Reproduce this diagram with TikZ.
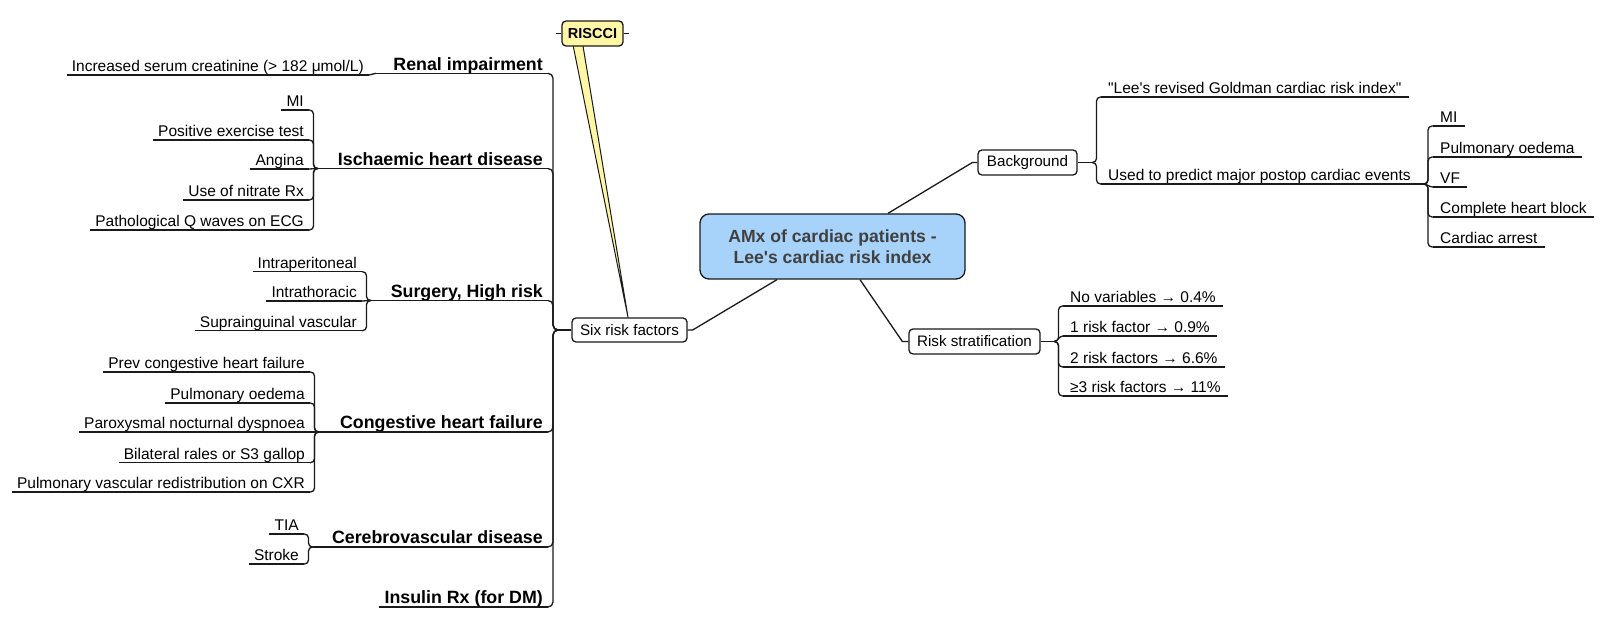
\documentclass[tikz,border=0pt]{standalone}
\usepackage{fontspec}
\setmainfont{Liberation Sans}
\newfontfamily\arial{Liberation Sans}
\definecolor{centerfill}{HTML}{A7D3FA}
\definecolor{calloutfill}{HTML}{FFF7A6}
\definecolor{linec}{HTML}{1A1A1A}
\definecolor{ctext}{HTML}{404040}
\begin{document}
\begin{tikzpicture}[x=1pt,y=-1pt,
  conn/.style={draw=linec,line width=1.3pt},
  leafL/.style={anchor=south east,inner xsep=5pt,inner ysep=0pt,text height=11pt,text depth=3.5pt,font=\arial\fontsize{15.5}{18}\selectfont},
  leafR/.style={leafL,anchor=south west,inner xsep=7pt},
  topic/.style={anchor=south east,inner xsep=5pt,inner ysep=0pt,text height=13pt,text depth=3pt,font=\arial\fontsize{17.8}{21}\selectfont\bfseries},
  boxnode/.style={draw=linec,line width=1.3pt,rounded corners=4pt,fill=white,inner sep=0pt,minimum height=25pt,font=\arial\fontsize{15.2}{18}\selectfont},
  brk/.style={conn,rounded corners=4pt},
]
\fill[white] (0,0) rectangle (1600,629);
\useasboundingbox (0,0) rectangle (1600,629);

% ---------- central and first-level nodes ----------
\node[draw=linec,line width=1.3pt,fill=centerfill,rounded corners=9pt,minimum width=265pt,minimum height=65pt,
      align=center,text=ctext,font=\arial\fontsize{17.6}{21}\selectfont\bfseries] (c) at (832.5,246.5)
      {AMx of cardiac patients -\\Lee's cardiac risk index};
\node[boxnode,minimum width=115pt,minimum height=24pt] (six) at (629.5,330) {Six risk factors};
\node[boxnode,minimum width=99pt] (bg) at (1027.5,162.5) {Background};
\node[boxnode,minimum width=131pt] (risk) at (974.5,341.5) {Risk stratification};

\draw[conn] ([xshift=55.5pt]c.north) -- ([xshift=-5pt]bg.west) -- (bg.west);
\draw[conn] ([xshift=27.5pt]c.south) -- ([xshift=-6pt]risk.west) -- (risk.west);
\draw[conn] ([xshift=-55.5pt]c.south) -- ([xshift=5pt]six.east) -- (six.east);

% ---------- left topics ----------
\node[topic] (renal) at (548,73.3) {Renal impairment};
\node[topic] (isch) at (548,168.5) {Ischaemic heart disease};
\node[topic] (surg) at (548,300.5) {Surgery, High risk};
\node[topic] (chf) at (548,432) {Congestive heart failure};
\node[topic] (cereb) at (548,547) {Cerebrovascular disease};
\node[topic] (insul) at (548,607) {Insulin Rx (for DM)};

% ---------- left leaves ----------
\node[leafL] (r1) at (369,75) {Increased serum creatinine (> 182 μmol/L)};
\node[leafL] (i1) at (309,110) {MI};
\node[leafL] (i2) at (309,140) {Positive exercise test};
\node[leafL] (i3) at (309,169) {Angina};
\node[leafL] (i4) at (309,200) {Use of nitrate Rx};
\node[leafL] (i5) at (309,230) {Pathological Q waves on ECG};
\node[leafL] (s1) at (362,271.7) {Intraperitoneal};
\node[leafL] (s2) at (362,301) {Intrathoracic};
\node[leafL] (s3) at (362,330.7) {Suprainguinal vascular};
\node[leafL] (c1) at (310,372) {Prev congestive heart failure};
\node[leafL] (c2) at (310,403) {Pulmonary oedema};
\node[leafL] (c3) at (310,432) {Paroxysmal nocturnal dyspnoea};
\node[leafL] (c4) at (310,462.7) {Bilateral rales or S3 gallop};
\node[leafL] (c5) at (310,492) {Pulmonary vascular redistribution on CXR};
\node[leafL] (v1) at (304,534) {TIA};
\node[leafL] (v2) at (304,564) {Stroke};

% ---------- right leaves ----------
\node[leafR] (b1) at (1101,97) {"Lee's revised Goldman cardiac risk index"};
\node[leafR] (b2) at (1101,184) {Used to predict major postop cardiac events};
\node[leafR] (u1) at (1433,126) {MI};
\node[leafR] (u2) at (1433,157) {Pulmonary oedema};
\node[leafR] (u3) at (1433,187) {VF};
\node[leafR] (u4) at (1433,217) {Complete heart block};
\node[leafR] (u5) at (1433,247) {Cardiac arrest};
\node[leafR] (k1) at (1063,306) {No variables → 0.4\%};
\node[leafR] (k2) at (1063,336) {1 risk factor → 0.9\%};
\node[leafR] (k3) at (1063,367) {2 risk factors → 6.6\%};
\node[leafR] (k4) at (1063,396) {≥3 risk factors → 11\%};

% underlines
\foreach \n in {renal,isch,surg,chf,cereb,insul,r1,i1,i2,i3,i4,i5,s1,s2,s3,c1,c2,c3,c4,c5,v1,v2,
                b1,b2,u1,u2,u3,u4,u5,k1,k2,k3,k4}
  \draw[conn] (\n.south west) -- (\n.south east);

% ---------- trunk from Six risk factors ----------
\coordinate (jT) at (558,330);
\draw[conn] (six.west) -- (jT);
\foreach \n in {renal,isch,surg,chf,cereb,insul}
  \draw[conn,rounded corners=5pt] (jT) -- ++(-5,0) |- (\n.south east);

% ---------- left brackets ----------
\coordinate (jR) at (376,73.3);
\coordinate (jI) at (318,168.5);
\coordinate (jS) at (371,300.5);
\coordinate (jC) at (319,432);
\coordinate (jV) at (313,547);
\draw[conn] (jR) -- (renal.south west);
\draw[conn] (jI) -- (isch.south west);
\draw[conn] (jS) -- (surg.south west);
\draw[conn] (jC) -- (chf.south west);
\draw[conn] (jV) -- (cereb.south west);

\draw[conn] (jR) to[out=180,in=0] (r1.south east);
\foreach \n in {i1,i2,i4,i5} \draw[brk] (jI) -- ++(-4.5,0) |- (\n.south east);
\draw[conn] (jI) -- (i3.south east);
\foreach \n in {s1,s3} \draw[brk] (jS) -- ++(-4.5,0) |- (\n.south east);
\draw[conn] (jS) -- (s2.south east);
\foreach \n in {c1,c2,c4,c5} \draw[brk] (jC) -- ++(-4.5,0) |- (\n.south east);
\draw[conn] (jC) -- (c3.south east);
\foreach \n in {v1,v2} \draw[brk] (jV) -- ++(-4.5,0) |- (\n.south east);

% ---------- right brackets ----------
\coordinate (jB) at (1092,162.5);
\draw[conn] (bg.east) -- (jB);
\foreach \n in {b1,b2} \draw[brk] (jB) -- ++(4.5,0) |- (\n.south west);
\coordinate (jU) at (1423,184);
\draw[conn] (b2.south east) -- (jU);
\foreach \n in {u1,u2,u4,u5} \draw[brk] (jU) -- ++(5,0) |- (\n.south west);
\draw[conn] (jU) to[out=0,in=180] (u3.south west);
\coordinate (jK) at (1054,341.5);
\draw[conn] (risk.east) -- (jK);
\foreach \n in {k1,k3,k4} \draw[brk] (jK) -- ++(4.5,0) |- (\n.south west);
\draw[conn] (jK) to[out=0,in=180] (k2.south west);

% ---------- RISCCI callout ----------
\draw[draw=linec,line width=1pt,fill=calloutfill,line join=round]
  (572,40) -- (582,40) -- ([xshift=-1.5pt]six.north) -- cycle;
\node[draw=linec,line width=1.3pt,fill=calloutfill,rounded corners=4pt,minimum width=61pt,minimum height=25pt,
      inner sep=0pt,font=\arial\fontsize{14.5}{17}\selectfont\bfseries] (ris) at (592.5,33.5) {RISCCI};
\draw[conn] (ris.west) -- ++(-5,0);
\draw[conn] (ris.east) -- ++(5,0);
\end{tikzpicture}
\end{document}
